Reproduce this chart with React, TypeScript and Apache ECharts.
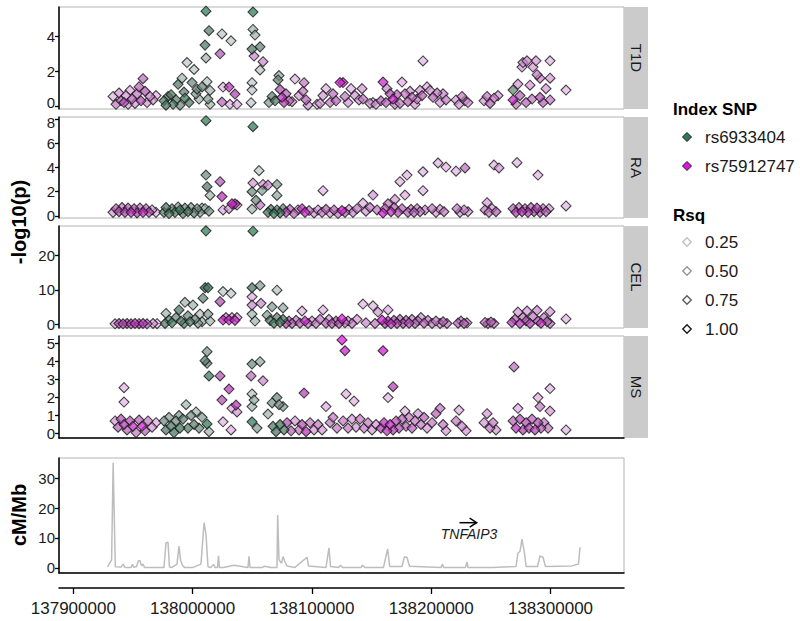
import React, { useEffect, useRef } from "react";
import * as echarts from "echarts";

// ---------- DATA (positions in kb) ----------
const xTicks = [137900, 138000, 138100, 138200, 138300];
const panelNames = ["T1D", "RA", "CEL", "MS"];
const panelTicks = [[0, 2, 4], [0, 2, 4, 6, 8], [0, 10, 20], [0, 1, 2, 3, 4, 5]];
const recombTicks = [0, 10, 20, 30];
const indexSnps = ["rs6933404", "rs75912747"];
const rsqLevels = ["0.25", "0.50", "0.75", "1.00"];
const geneName = "TNFAIP3";
const geneStart = 138223.7;
const geneEnd = 138238.1;
const geneArrowY = 15.1;
const geneLabelX = 138231.7;
const geneLabelY = 11.3;

// [pos kb, -log10(p), rsq, index (0 = rs6933404, 1 = rs75912747)]
const t1dData = [
  [137933.3, 0.55, 0.2, 1], [137935.8, 0.1, 0.4, 1], [137938.3, 0.75, 0.3, 1], [137940.0, 0.3, 0.5, 1],
  [137942.5, 0.2, 0.6, 1], [137944.2, 0.6, 0.3, 1], [137945.9, 0.1, 0.3, 1], [137947.5, 0.9, 0.25, 1],
  [137949.2, 0.4, 0.5, 1], [137951.7, 0.15, 0.3, 1], [137953.4, 0.7, 0.4, 1], [137955.1, 1.1, 0.5, 1],
  [137956.7, 0.3, 0.6, 1], [137958.4, 1.57, 0.45, 1], [137960.1, 0.85, 0.55, 1], [137961.8, 0.2, 0.3, 1],
  [137964.3, 0.55, 0.35, 1], [137966.8, 0.35, 0.3, 1], [137969.3, 0.6, 0.2, 1],
  [137976.0, 0.3, 0.7, 0], [137977.7, 0.05, 0.8, 0], [137979.4, 0.55, 0.6, 0], [137981.9, 0.65, 0.75, 0],
  [137983.6, 0.1, 0.7, 0], [137986.1, 0.35, 0.6, 0], [137987.8, 1.25, 0.7, 0], [137989.4, 0.05, 0.5, 0],
  [137991.1, 1.6, 0.3, 0], [137992.8, 0.8, 0.6, 0], [137993.6, 0.45, 0.8, 0], [137995.3, 2.5, 0.2, 0],
  [137997.0, 0.2, 0.7, 0], [137999.5, 1.35, 0.5, 0], [138001.2, 2.1, 0.2, 0], [138002.8, 0.7, 0.4, 0],
  [138003.7, 0.97, 0.55, 0], [138005.4, 0.4, 0.3, 0], [138007.9, 1.1, 0.55, 0],
  [138011.2, 5.45, 1, 0], [138013.7, 4.33, 0.65, 0], [138010.4, 3.5, 0.75, 0], [138011.2, 2.76, 0.3, 0],
  [138012.1, 1.4, 0.25, 0], [138014.6, 0.9, 0.3, 0], [138012.9, 0.4, 0.4, 0], [138014.6, 0.1, 0.3, 0],
  [138023.0, 3.0, 0.55, 1], [138024.6, 4.14, 0.2, 0], [138032.2, 3.75, 0.2, 0], [138025.5, 1.09, 0.2, 1],
  [138030.5, 1.09, 0.8, 1], [138035.5, 0.69, 0.7, 1], [138024.6, 0.23, 0.5, 1], [138031.3, 0.1, 0.25, 1],
  [138037.2, 0.1, 0.25, 1],
  [138050.6, 5.4, 1, 0], [138050.6, 4.4, 0.3, 0], [138052.3, 4.08, 0.3, 0], [138049.8, 3.27, 0.7, 0],
  [138056.5, 3.4, 0.55, 0], [138051.5, 2.87, 0.35, 1], [138059.0, 2.55, 0.35, 1], [138056.5, 2.07, 0.2, 0],
  [138049.8, 1.34, 0.2, 0], [138049.8, 0.92, 0.2, 0], [138049.0, 0.19, 0.2, 0],
  [138064.0, 0.2, 0.4, 0], [138066.6, 0.55, 0.6, 0], [138069.1, 0.3, 0.7, 0], [138071.6, 1.5, 0.55, 0],
  [138072.4, 1.75, 0.35, 0], [138073.3, 0.95, 0.6, 1], [138074.9, 0.5, 0.8, 1], [138076.6, 0.2, 0.7, 1],
  [138078.3, 0.7, 0.5, 1], [138080.8, 0.3, 0.5, 1], [138083.3, 0.25, 0.3, 1], [138085.8, 1.55, 0.2, 1],
  [138089.2, 0.6, 0.3, 1], [138092.5, 0.85, 0.4, 1], [138093.4, 1.34, 0.4, 1], [138095.1, 0.35, 0.5, 1],
  [138096.7, 0.05, 0.3, 1], [138104.3, 0.1, 0.25, 1],
  [138106.8, 0.15, 0.3, 1], [138109.3, 0.6, 0.3, 1], [138111.8, 1.0, 0.2, 1], [138115.2, 0.2, 0.4, 1],
  [138117.7, 0.7, 0.45, 1], [138120.2, 0.3, 0.5, 1], [138123.6, 1.35, 0.95, 1], [138126.1, 1.35, 0.9, 1],
  [138127.7, 0.55, 0.4, 1], [138130.3, 0.2, 0.3, 1], [138132.8, 1.0, 0.2, 1], [138136.1, 0.6, 0.3, 1],
  [138139.5, 0.35, 0.3, 1], [138142.0, 1.0, 0.3, 1], [138142.8, 0.4, 0.4, 1], [138148.7, 0.15, 0.3, 1],
  [138151.2, 0.2, 0.25, 1], [138153.7, 0.1, 0.3, 1],
  [138157.9, 0.3, 0.5, 1], [138159.6, 1.38, 0.9, 1], [138162.1, 0.2, 0.5, 1], [138162.9, 1.0, 0.35, 1],
  [138165.5, 0.7, 0.6, 1], [138168.0, 0.4, 0.9, 1], [138169.6, 0.1, 0.4, 1], [138171.3, 0.65, 0.5, 1],
  [138173.8, 0.15, 0.4, 1], [138175.5, 1.38, 0.25, 1], [138178.0, 0.7, 0.4, 1], [138180.5, 0.25, 0.5, 1],
  [138182.2, 0.85, 0.3, 1], [138183.9, 0.5, 0.45, 1], [138186.4, 0.1, 0.3, 1], [138188.1, 0.4, 0.4, 1],
  [138190.6, 0.9, 0.3, 1], [138192.3, 0.6, 0.5, 1], [138193.1, 2.59, 0.2, 1], [138196.5, 1.1, 0.25, 1],
  [138199.0, 0.9, 0.3, 1], [138201.5, 0.5, 0.5, 1], [138204.9, 0.75, 0.4, 1], [138207.4, 0.2, 0.3, 1],
  [138209.9, 0.7, 0.35, 1], [138212.4, 0.35, 0.4, 1],
  [138220.8, 0.35, 0.3, 1], [138223.3, 0.1, 0.3, 1], [138225.8, 0.55, 0.4, 1], [138228.3, 0.3, 0.3, 1],
  [138230.8, 0.2, 0.35, 1],
  [138244.3, 0.3, 0.3, 1], [138246.8, 0.55, 0.4, 1], [138249.3, 0.15, 0.5, 1], [138252.6, 0.45, 0.4, 1],
  [138256.0, 0.6, 0.3, 1],
  [138268.6, 0.92, 0.55, 0], [138268.6, 0.35, 0.9, 1], [138272.7, 1.26, 0.3, 1], [138274.4, 0.6, 0.5, 1],
  [138276.1, 2.24, 0.3, 1], [138276.9, 2.5, 0.3, 1], [138280.3, 2.6, 0.35, 1], [138282.8, 1.2, 0.3, 1],
  [138285.3, 2.24, 0.3, 1], [138287.8, 2.6, 0.3, 1], [138288.7, 1.8, 0.4, 1], [138291.2, 1.6, 0.35, 1],
  [138291.2, 0.5, 0.6, 1], [138293.7, 0.2, 0.5, 1], [138296.2, 1.0, 0.3, 1], [138299.6, 2.6, 0.2, 1],
  [138299.6, 1.6, 0.3, 1], [138299.6, 0.35, 0.4, 1], [138271.1, 0.1, 0.4, 1], [138279.5, 0.2, 0.5, 1],
  [138284.5, 0.4, 0.4, 1], [138313.0, 0.92, 0.2, 1],
];

const raData = [
  [137933.3, 0.3, 0.3, 1], [137935.8, 0.6, 0.5, 1], [137938.3, 0.35, 0.6, 1], [137940.8, 0.7, 0.4, 1],
  [137943.3, 0.3, 0.7, 1], [137945.9, 0.65, 0.5, 1], [137948.4, 0.3, 0.8, 1], [137950.9, 0.6, 0.6, 1],
  [137953.4, 0.25, 0.7, 1], [137955.9, 0.65, 0.4, 1], [137958.4, 0.3, 0.9, 1], [137960.9, 0.6, 0.5, 1],
  [137963.4, 0.3, 0.6, 1], [137966.0, 0.5, 0.3, 1], [137969.3, 0.3, 0.2, 1],
  [137976.0, 0.3, 0.6, 0], [137977.7, 0.7, 0.7, 0], [137980.2, 0.2, 0.8, 0], [137982.7, 0.6, 0.6, 0],
  [137985.2, 0.3, 0.7, 0], [137987.8, 0.75, 0.4, 0], [137989.4, 0.5, 0.9, 0], [137991.9, 0.2, 0.6, 0],
  [137993.6, 0.65, 0.5, 0], [137996.1, 0.35, 0.7, 0], [137998.7, 0.7, 0.4, 0], [138001.2, 0.25, 0.6, 0],
  [138003.7, 0.6, 0.5, 0], [138006.2, 0.3, 0.4, 0], [138007.9, 0.65, 0.3, 0],
  [138011.2, 7.86, 1, 0], [138011.2, 3.38, 0.5, 0], [138012.1, 2.42, 0.7, 0], [138014.6, 1.7, 0.3, 0],
  [138013.7, 0.4, 0.5, 0], [138010.4, 0.6, 0.3, 0], [138023.0, 2.83, 0.55, 1], [138024.6, 1.6, 0.8, 1],
  [138033.0, 1.0, 0.9, 1], [138035.5, 1.0, 0.85, 1], [138025.5, 0.5, 0.25, 1], [138030.5, 0.6, 0.3, 1],
  [138037.2, 0.9, 0.3, 1],
  [138050.6, 7.37, 1, 0], [138055.7, 3.74, 0.2, 0], [138050.6, 2.72, 0.3, 1], [138059.0, 2.6, 0.3, 1],
  [138063.2, 2.55, 0.35, 1], [138070.7, 2.6, 0.4, 0], [138049.8, 2.0, 0.5, 0], [138058.2, 2.1, 0.4, 0],
  [138070.7, 1.7, 0.35, 0], [138049.8, 0.57, 0.3, 0], [138053.1, 1.3, 0.5, 0], [138056.5, 0.9, 0.4, 1],
  [138063.2, 0.3, 0.8, 0], [138065.7, 0.55, 0.7, 0], [138068.2, 0.2, 0.9, 0], [138070.7, 0.5, 0.7, 0],
  [138073.3, 0.25, 0.8, 0], [138075.8, 0.6, 0.6, 0], [138078.3, 0.3, 0.7, 1], [138081.6, 0.55, 0.5, 1],
  [138085.0, 0.2, 0.5, 1], [138088.3, 0.5, 0.3, 1], [138091.7, 0.6, 0.8, 1], [138094.2, 0.3, 0.9, 1],
  [138097.6, 0.45, 0.4, 1], [138101.8, 0.25, 0.3, 1], [138109.3, 2.09, 0.2, 1], [138105.1, 0.5, 0.3, 1],
  [138108.5, 0.3, 0.4, 1], [138111.8, 0.55, 0.5, 1], [138115.2, 0.25, 0.3, 1], [138118.5, 0.5, 0.5, 1],
  [138121.9, 0.2, 0.4, 1], [138125.2, 0.45, 0.95, 1], [138127.7, 0.3, 0.5, 1], [138131.1, 0.55, 0.3, 1],
  [138134.4, 0.3, 0.35, 1], [138137.8, 0.6, 0.4, 1], [138142.8, 1.07, 0.25, 1], [138145.3, 0.4, 0.3, 1],
  [138148.7, 0.7, 0.4, 1], [138151.2, 1.73, 0.3, 1], [138154.6, 0.5, 0.4, 1],
  [138159.6, 0.25, 0.95, 1], [138161.3, 0.6, 0.5, 1], [138163.8, 1.0, 0.4, 1], [138166.3, 0.35, 0.8, 1],
  [138168.8, 0.7, 0.5, 1], [138169.6, 1.37, 0.3, 1], [138172.2, 0.3, 0.6, 1], [138173.8, 2.83, 0.2, 1],
  [138175.5, 0.6, 0.5, 1], [138178.0, 1.73, 0.25, 1], [138179.7, 3.38, 0.2, 1], [138180.5, 0.3, 0.5, 1],
  [138183.1, 0.55, 0.4, 1], [138185.6, 0.3, 0.5, 1], [138188.1, 0.6, 0.4, 1], [138190.6, 0.35, 0.4, 1],
  [138193.1, 3.65, 0.2, 1], [138193.1, 2.09, 0.2, 1], [138194.8, 0.5, 0.35, 1],
  [138205.7, 4.37, 0.2, 1], [138212.4, 4.04, 0.2, 1], [138220.8, 3.7, 0.2, 1], [138228.3, 3.96, 0.45, 1],
  [138200.7, 0.6, 0.4, 1], [138204.0, 0.3, 0.3, 1], [138207.4, 0.55, 0.3, 1], [138210.7, 0.35, 0.4, 1],
  [138221.6, 0.6, 0.4, 1], [138224.1, 0.3, 0.3, 1], [138227.5, 0.5, 0.35, 1], [138230.8, 0.35, 0.3, 1],
  [138246.8, 1.1, 0.3, 1], [138245.1, 0.5, 0.4, 1], [138248.4, 0.3, 0.4, 1], [138251.0, 0.6, 0.3, 1],
  [138252.6, 4.2, 0.2, 1], [138256.8, 3.96, 0.3, 1], [138254.3, 0.35, 0.5, 1],
  [138271.9, 4.4, 0.2, 1], [138289.5, 3.38, 0.2, 1], [138268.6, 0.6, 0.5, 1], [138271.1, 0.3, 0.7, 1],
  [138273.6, 0.7, 0.4, 1], [138276.1, 0.35, 0.8, 1], [138278.6, 0.6, 0.5, 1], [138281.1, 0.3, 0.7, 1],
  [138283.6, 0.7, 0.5, 1], [138286.2, 0.35, 0.6, 1], [138288.7, 0.65, 0.7, 1], [138291.2, 0.3, 0.5, 1],
  [138293.7, 0.6, 0.4, 1], [138296.2, 0.35, 0.5, 1], [138298.7, 0.6, 0.3, 1], [138313.0, 0.83, 0.2, 1],
];

const celData = [
  [137935.0, 0.2, 0.3, 1], [137938.3, 0.3, 0.6, 1], [137941.7, 0.2, 0.7, 1], [137945.0, 0.3, 0.6, 1],
  [137948.4, 0.2, 0.7, 1], [137951.7, 0.3, 0.8, 1], [137955.1, 0.25, 0.7, 1], [137958.4, 0.3, 0.8, 1],
  [137961.8, 0.2, 0.5, 1], [137966.8, 0.3, 0.3, 1], [137970.2, 0.25, 0.2, 1],
  [137976.9, 0.3, 0.7, 0], [137977.7, 3.2, 0.3, 0], [137980.2, 1.3, 0.6, 0], [137982.7, 0.5, 0.8, 0],
  [137986.1, 2.0, 0.5, 0], [137988.6, 4.2, 0.75, 0], [137990.3, 1.0, 0.7, 0], [137992.8, 0.3, 0.6, 0],
  [137993.6, 6.4, 0.3, 0], [137996.1, 2.5, 0.5, 0], [137997.8, 0.8, 0.7, 0], [138000.3, 5.6, 0.3, 0],
  [138002.0, 1.5, 0.5, 0], [138004.5, 0.4, 0.4, 0], [138006.2, 3.0, 0.25, 0], [138007.9, 0.8, 0.3, 0],
  [138011.2, 27.0, 1, 0], [138010.4, 10.6, 0.85, 0], [138012.9, 10.6, 0.85, 0], [138008.7, 7.6, 0.55, 0],
  [138012.9, 3.0, 0.4, 0], [138014.6, 1.0, 0.3, 0], [138023.0, 6.6, 0.6, 1], [138025.5, 9.5, 0.2, 0],
  [138032.2, 9.0, 0.2, 0], [138025.5, 1.3, 0.9, 1], [138028.0, 2.0, 0.4, 1], [138030.5, 1.3, 0.9, 1],
  [138033.0, 2.0, 0.3, 1], [138035.5, 1.2, 0.9, 1], [138037.2, 2.0, 0.3, 1],
  [138050.6, 26.9, 1, 0], [138049.8, 10.6, 0.75, 0], [138056.5, 11.2, 0.4, 0], [138049.8, 8.0, 0.25, 1],
  [138049.8, 5.6, 0.35, 1], [138057.3, 6.1, 0.35, 1], [138049.8, 3.0, 0.3, 0], [138062.4, 2.7, 0.4, 0],
  [138052.3, 1.0, 0.3, 0],
  [138066.6, 5.1, 0.4, 0], [138070.7, 9.9, 0.25, 0], [138075.8, 4.8, 0.35, 0], [138064.9, 1.2, 0.7, 0],
  [138068.2, 0.4, 0.8, 0], [138070.7, 2.0, 0.6, 0], [138073.3, 0.6, 0.8, 0], [138075.8, 1.5, 0.7, 0],
  [138078.3, 0.3, 0.6, 1], [138080.8, 1.0, 0.5, 1], [138083.3, 0.3, 0.5, 1], [138086.7, 1.2, 0.4, 1],
  [138090.0, 0.4, 0.5, 1], [138091.7, 3.9, 0.2, 1], [138094.2, 1.0, 0.9, 1], [138096.7, 0.3, 0.4, 1],
  [138100.1, 1.0, 0.3, 1],
  [138103.4, 0.3, 0.4, 1], [138106.8, 1.5, 0.4, 1], [138109.3, 4.2, 0.2, 1], [138111.8, 0.4, 0.5, 1],
  [138114.3, 1.5, 0.3, 1], [138116.8, 0.3, 0.6, 1], [138120.2, 1.0, 0.5, 1], [138122.7, 0.3, 0.6, 1],
  [138125.2, 1.6, 0.95, 1], [138127.7, 0.5, 0.5, 1], [138130.3, 1.0, 0.3, 1], [138133.6, 0.3, 0.4, 1],
  [138137.8, 1.5, 0.3, 1], [138142.8, 5.9, 0.2, 1], [138145.3, 0.5, 0.35, 1], [138151.2, 5.4, 0.2, 1],
  [138152.9, 0.3, 0.4, 1], [138155.4, 3.6, 0.3, 1],
  [138158.8, 1.3, 0.95, 1], [138161.3, 0.3, 0.7, 1], [138163.8, 4.2, 0.25, 1], [138163.8, 1.0, 0.8, 1],
  [138166.3, 0.2, 0.8, 1], [138168.8, 1.2, 0.6, 1], [138171.3, 0.3, 0.7, 1], [138173.8, 1.5, 0.5, 1],
  [138176.4, 0.3, 0.6, 1], [138178.9, 1.2, 0.5, 1], [138181.4, 0.4, 0.6, 1], [138183.9, 1.5, 0.4, 1],
  [138186.4, 0.3, 0.5, 1], [138188.9, 1.0, 0.4, 1], [138191.4, 2.0, 0.3, 1], [138194.0, 0.4, 0.5, 1],
  [138197.3, 1.2, 0.4, 1],
  [138200.7, 0.3, 0.4, 1], [138204.0, 1.0, 0.4, 1], [138207.4, 0.3, 0.3, 1], [138209.9, 0.8, 0.5, 1],
  [138213.2, 0.3, 0.4, 1], [138222.5, 0.4, 0.5, 1], [138225.0, 1.0, 0.4, 1], [138227.5, 0.3, 0.5, 1],
  [138230.0, 0.5, 0.4, 1], [138245.1, 0.6, 0.5, 1], [138247.6, 0.3, 0.4, 1], [138250.1, 0.7, 0.5, 1],
  [138252.6, 0.3, 0.4, 1],
  [138267.7, 0.6, 0.7, 1], [138270.2, 1.5, 0.5, 1], [138272.7, 3.6, 0.3, 1], [138274.4, 0.3, 0.8, 1],
  [138276.9, 2.0, 0.4, 1], [138279.5, 1.0, 0.6, 1], [138280.3, 3.9, 0.3, 1], [138282.8, 0.3, 0.7, 1],
  [138285.3, 2.3, 0.4, 1], [138288.7, 4.1, 0.35, 1], [138289.5, 1.0, 0.6, 1], [138292.0, 0.4, 0.8, 1],
  [138294.5, 2.0, 0.4, 1], [138297.1, 0.8, 0.5, 1], [138299.6, 3.7, 0.3, 1], [138299.6, 0.3, 0.4, 1],
  [138313.0, 1.6, 0.2, 1],
];

const msData = [
  [137935.0, 0.7, 0.3, 1], [137937.5, 0.35, 0.5, 1], [137940.0, 0.8, 0.6, 1], [137942.5, 2.55, 0.2, 1],
  [137942.5, 1.75, 0.2, 1], [137942.5, 0.5, 0.7, 1], [137945.0, 0.2, 0.5, 1], [137947.5, 0.7, 0.6, 1],
  [137950.0, 0.4, 0.8, 1], [137952.6, 0.05, 0.4, 1], [137955.1, 0.75, 0.5, 1], [137957.6, 0.4, 0.9, 1],
  [137960.1, 0.15, 0.5, 1], [137962.6, 0.7, 0.4, 1], [137966.0, 0.35, 0.3, 1], [137969.3, 0.6, 0.25, 1],
  [137976.0, 0.7, 0.5, 0], [137977.7, 0.2, 0.7, 0], [137980.2, 0.9, 0.4, 0], [137981.9, 0.4, 0.7, 0],
  [137984.4, 0.05, 0.8, 0], [137986.1, 0.7, 0.5, 0], [137988.6, 1.0, 0.4, 0], [137989.4, 0.3, 0.9, 0],
  [137991.9, 0.8, 0.6, 0], [137994.5, 1.6, 0.3, 0], [137996.1, 0.3, 0.7, 0], [137998.7, 1.0, 0.45, 0],
  [138001.2, 0.5, 0.6, 0], [138002.8, 1.2, 0.3, 0], [138005.4, 0.3, 0.5, 0], [138007.9, 0.9, 0.4, 0],
  [138012.1, 4.55, 0.45, 0], [138010.4, 4.05, 0.6, 0], [138012.1, 3.9, 0.55, 0], [138013.7, 3.2, 0.85, 0],
  [138012.1, 0.53, 1, 0], [138013.7, 0.1, 0.3, 0], [138023.0, 3.2, 0.6, 1], [138030.5, 2.47, 0.75, 1],
  [138024.6, 1.86, 0.6, 1], [138036.4, 1.58, 0.75, 1], [138033.0, 1.4, 0.25, 1], [138037.2, 1.2, 0.3, 1],
  [138025.5, 0.65, 0.2, 1], [138032.2, 0.2, 0.25, 1],
  [138049.8, 3.86, 0.5, 0], [138056.5, 3.99, 0.35, 0], [138049.0, 3.2, 0.45, 1], [138059.0, 2.93, 0.35, 1],
  [138049.8, 2.2, 0.25, 0], [138051.5, 1.86, 0.35, 0], [138049.8, 1.5, 0.3, 0], [138049.8, 0.65, 1, 0],
  [138054.0, 0.3, 0.4, 0],
  [138070.7, 2.0, 0.5, 0], [138066.6, 1.7, 0.45, 0], [138072.4, 1.6, 0.5, 0], [138075.8, 1.5, 0.4, 0],
  [138063.2, 1.08, 0.3, 0], [138067.4, 0.4, 0.7, 0], [138069.9, 0.1, 0.8, 0], [138073.3, 0.5, 0.9, 0],
  [138076.6, 0.2, 0.7, 0], [138079.1, 0.6, 0.6, 1], [138082.5, 0.15, 0.5, 1], [138085.8, 0.7, 0.3, 1],
  [138089.2, 0.2, 0.4, 1], [138091.7, 0.5, 0.6, 1], [138093.4, 2.25, 0.7, 1], [138095.1, 0.1, 0.8, 1],
  [138098.4, 0.6, 0.4, 1], [138101.8, 0.2, 0.3, 1],
  [138105.1, 0.5, 0.4, 1], [138108.5, 0.2, 0.3, 1], [138111.8, 1.5, 0.25, 1], [138115.2, 0.6, 0.4, 1],
  [138117.7, 0.9, 0.4, 1], [138121.0, 0.3, 0.4, 1], [138125.2, 5.2, 1, 1], [138127.7, 4.6, 0.95, 1],
  [138128.6, 2.2, 0.2, 1], [138135.3, 1.8, 0.2, 1], [138126.1, 0.7, 0.4, 1], [138130.3, 0.3, 0.4, 1],
  [138133.6, 0.8, 0.3, 1], [138137.0, 0.35, 0.3, 1], [138140.3, 0.8, 0.4, 1], [138143.7, 0.3, 0.4, 1],
  [138147.0, 0.6, 0.4, 1], [138150.4, 0.2, 0.3, 1], [138153.7, 0.5, 0.3, 1],
  [138159.6, 4.6, 0.95, 1], [138168.0, 2.6, 0.7, 1], [138163.8, 2.0, 0.2, 1], [138178.0, 1.25, 0.2, 1],
  [138157.9, 0.3, 0.7, 1], [138160.4, 0.6, 0.8, 1], [138162.9, 0.15, 0.8, 1], [138165.5, 0.5, 0.9, 1],
  [138168.0, 0.2, 0.7, 1], [138170.5, 0.7, 0.6, 1], [138173.0, 0.3, 0.6, 1], [138175.5, 0.8, 0.5, 1],
  [138178.9, 0.4, 0.5, 1], [138181.4, 0.9, 0.4, 1], [138183.9, 0.3, 0.5, 1], [138186.4, 0.7, 0.4, 1],
  [138188.9, 1.1, 0.3, 1], [138191.4, 0.5, 0.4, 1], [138194.0, 0.9, 0.5, 1], [138196.5, 0.3, 0.3, 1],
  [138200.7, 0.6, 0.4, 1], [138204.0, 1.1, 0.5, 1], [138207.4, 1.4, 0.4, 1], [138209.9, 0.5, 0.4, 1],
  [138212.4, 0.15, 0.3, 1], [138223.3, 1.3, 0.25, 1], [138220.8, 0.7, 0.4, 1], [138225.8, 0.4, 0.35, 1],
  [138229.2, 0.15, 0.3, 1], [138246.8, 1.1, 0.3, 1], [138244.3, 0.6, 0.3, 1], [138249.3, 0.3, 0.4, 1],
  [138251.8, 0.6, 0.4, 1], [138254.3, 0.2, 0.3, 1],
  [138269.4, 3.7, 0.45, 1], [138299.6, 2.5, 0.2, 1], [138289.5, 2.0, 0.25, 1], [138272.7, 1.4, 0.25, 1],
  [138291.2, 1.5, 0.4, 1], [138299.6, 1.25, 0.3, 1], [138268.6, 0.7, 0.5, 1], [138271.1, 0.3, 0.8, 1],
  [138274.4, 0.8, 0.6, 1], [138276.9, 0.2, 0.7, 1], [138279.5, 0.6, 0.6, 1], [138282.0, 0.3, 0.7, 1],
  [138284.5, 0.8, 0.5, 1], [138287.0, 0.2, 0.7, 1], [138289.5, 0.6, 0.6, 1], [138292.0, 0.3, 0.5, 1],
  [138294.5, 0.6, 0.4, 1], [138297.9, 0.3, 0.4, 1], [138313.0, 0.2, 0.2, 1],
];

// recombination rate (cM/Mb)
const recombPos = [
  137928.7, 137932.1, 137933.4, 137935.2, 137940.0, 137941.7, 137943.3, 137948.4, 137949.6, 137950.9,
  137953.0, 137954.6, 137955.9, 137957.2, 137958.4, 137959.7, 137976.0, 137977.7, 137979.4, 137980.6,
  137982.7, 137986.9, 137988.6, 137989.9, 137991.5, 137993.2, 138000.3, 138007.0, 138009.6, 138011.2,
  138012.9, 138015.4, 138017.5, 138018.8, 138020.9, 138021.7, 138022.5, 138025.9, 138034.7, 138046.4,
  138047.3, 138048.1, 138058.6, 138060.3, 138065.7, 138070.7, 138071.3, 138072.4, 138074.5, 138075.8,
  138077.4, 138079.1, 138085.8, 138093.0, 138095.9, 138097.1, 138111.8, 138114.3, 138115.6, 138122.3,
  138124.0, 138125.6, 138141.2, 138142.4, 138144.5, 138160.0, 138161.7, 138163.5, 138165.2, 138175.5,
  138177.6, 138179.7, 138181.8, 138208.2, 138209.5, 138210.3, 138228.7, 138230.0, 138230.8, 138251.0,
  138271.1, 138272.7, 138274.4, 138276.1, 138278.2, 138279.5, 138289.1, 138291.2, 138293.7, 138295.8,
  138318.0, 138323.5, 138324.7,
];
const recombRate = [
  0.4, 2.7, 35.1, 0.4, 0.3, 1.3, 0.2, 0.2, 1.2, 0.2,
  0.5, 2.4, 2.4, 0.7, 1.3, 0.2, 0.2, 8.4, 8.6, 0.3,
  0.2, 1.3, 7.3, 2.6, 0.9, 0.2, 0.2, 1.3, 15.1, 11.3,
  0.4, 0.2, 1.2, 0.2, 0.2, 4.1, 0.2, 0.2, 0.9, 0.2,
  3.9, 0.2, 0.2, 0.6, 0.2, 0.2, 17.7, 2.7, 1.6, 3.8,
  2.0, 0.7, 0.2, 2.6, 3.6, 0.7, 0.2, 6.7, 0.5, 0.2,
  0.9, 0.2, 0.2, 0.9, 0.2, 0.2, 3.2, 6.4, 0.5, 0.5,
  3.8, 3.5, 0.6, 0.2, 1.3, 0.2, 0.2, 2.0, 0.2, 0.2,
  0.5, 5.0, 5.5, 9.6, 4.9, 0.5, 0.5, 4.0, 3.6, 0.5,
  0.7, 1.3, 6.9,
];

// ---------- LAYOUT / STYLE ----------
const FONT = "'Liberation Sans', Arial, Helvetica, sans-serif";
const X_MIN = 137888.0;
const X_MAX = 138361.6;
const GRID_LEFT = 59;
const GRID_WIDTH = 565;
const panelLayout = [
  { top: 7, height: 102, min: -0.17, max: 5.69 },
  { top: 117, height: 101, min: -0.165, max: 8.165 },
  { top: 226, height: 102, min: -1.0, max: 28.4 },
  { top: 336, height: 102, min: -0.25, max: 5.42 },
];
// labels that sit right next to the neighbouring panel's label get nudged apart
const nudgeUp = [0, null, null, null];
const nudgeDown = [null, 8, null, null];
const recombLayout = { top: 458, height: 115, min: -1.67, max: 36.67 };
const IDX_RGB = [[43, 122, 83], [224, 18, 224]];
const IDX_HEX = ["#2b7a53", "#e012e0"];
const BASE_RGB = [226, 220, 230];
const RSQ_STROKES = ["#c2c2c2", "#969696", "#5e5e5e", "#1a1a1a"];
const TICK_FONT = { fontSize: 15, fontFamily: FONT, color: "#1a1a1a" };

function fillFor(rsq: number, idx: number) {
  const c = IDX_RGB[idx];
  const dark = 1 - 1.5 * Math.max(0, rsq - 0.25) * (1 - rsq);
  const m = (k: number) => Math.round((BASE_RGB[k] + (c[k] - BASE_RGB[k]) * rsq) * dark);
  return `rgba(${m(0)},${m(1)},${m(2)},0.9)`;
}

function diamond(cx: number, cy: number, r: number) {
  return [[cx, cy - r], [cx + r, cy], [cx, cy + r], [cx - r, cy]];
}

export default function App() {
  const ref = useRef<HTMLDivElement>(null);
  useEffect(() => {
    if (!ref.current) return;
    const chart = echarts.init(ref.current, null, { renderer: "svg" });
    const datasets = [t1dData, raData, celData, msData];

    const grids: any[] = panelLayout.map((p) => ({
      left: GRID_LEFT, top: p.top, width: GRID_WIDTH, height: p.height,
      show: true, borderColor: "#b3b3b3", borderWidth: 1, backgroundColor: "#fff",
    }));
    grids.push({
      left: GRID_LEFT, top: recombLayout.top, width: GRID_WIDTH, height: recombLayout.height,
      show: true, borderColor: "#b3b3b3", borderWidth: 1, backgroundColor: "#fff",
    });

    const xAxes: any[] = grids.map((_, i) => ({
      type: "value", gridIndex: i, min: X_MIN, max: X_MAX,
      axisLine: { show: i >= 3, onZero: false, lineStyle: { color: "#000", width: 1.5 } },
      axisTick: { show: false }, axisLabel: { show: false }, splitLine: { show: false },
    }));
    xAxes.push({
      type: "value", gridIndex: 4, min: X_MIN, max: X_MAX, position: "bottom", offset: 15,
      axisLine: { show: true, onZero: false, lineStyle: { color: "#000", width: 1.5 } },
      axisTick: { show: true, length: 6, customValues: xTicks, lineStyle: { color: "#000", width: 1.3 } },
      axisLabel: {
        customValues: xTicks, fontSize: 17, color: "#1a1a1a", fontFamily: FONT, margin: 12,
        formatter: (v: number) => String(Math.round(v * 1000)),
      },
      splitLine: { show: false },
    });

    const yAxes: any[] = panelLayout.map((p, i) => ({
      type: "value", gridIndex: i, min: p.min, max: p.max,
      axisLine: { show: true, onZero: false, lineStyle: { color: "#000", width: 1.5 } },
      axisTick: { show: true, length: 4, customValues: panelTicks[i], lineStyle: { color: "#000", width: 1.3 } },
      axisLabel: {
        customValues: panelTicks[i], ...TICK_FONT, margin: 4,
        formatter: (v: number) => {
          if (nudgeUp[i] !== null && v === nudgeUp[i]) return `{up|${v}}`;
          if (nudgeDown[i] !== null && v === nudgeDown[i]) return `{dn|${v}}`;
          return String(v);
        },
        rich: {
          up: { ...TICK_FONT, padding: [0, 0, 7, 0] },
          dn: { ...TICK_FONT, padding: [7, 0, 0, 0] },
        },
      },
      splitLine: { show: false },
    }));
    yAxes.push({
      type: "value", gridIndex: 4, min: recombLayout.min, max: recombLayout.max,
      axisLine: { show: true, onZero: false, lineStyle: { color: "#000", width: 1.5 } },
      axisTick: { show: true, length: 4, customValues: recombTicks, lineStyle: { color: "#000", width: 1.3 } },
      axisLabel: { customValues: recombTicks, ...TICK_FONT, margin: 4 },
      splitLine: { show: false },
    });

    const series: any[] = datasets.map((d, i) => {
      const sorted = [...d].sort((a, b) => a[2] - b[2]);
      return {
        type: "scatter", xAxisIndex: i, yAxisIndex: i, symbol: "diamond", symbolSize: 10,
        silent: true,
        data: sorted.map((p) => ({
          value: [p[0], p[1]],
          itemStyle: { color: fillFor(p[2], p[3]), borderColor: "#1a1a1a", borderWidth: 1.1 },
        })),
      };
    });
    series.push({
      type: "line", xAxisIndex: 4, yAxisIndex: 4, showSymbol: false, symbol: "none", silent: true,
      data: recombPos.map((x, i) => [x, recombRate[i]]),
      lineStyle: { color: "#bdbdbd", width: 1.5 },
    });
    series.push({
      type: "custom", xAxisIndex: 4, yAxisIndex: 4, silent: true,
      data: [[geneStart, geneEnd, geneArrowY, geneLabelX, geneLabelY]],
      renderItem: (_p: any, api: any) => {
        const a = api.coord([api.value(0), api.value(2)]);
        const b = api.coord([api.value(1), api.value(2)]);
        const t = api.coord([api.value(3), api.value(4)]);
        return {
          type: "group",
          children: [
            { type: "line", shape: { x1: a[0], y1: a[1], x2: b[0], y2: b[1] }, style: { stroke: "#000", lineWidth: 1.5 } },
            {
              type: "polyline",
              shape: { points: [[b[0] - 7, b[1] - 4.5], [b[0], b[1]], [b[0] - 7, b[1] + 4.5]] },
              style: { stroke: "#000", lineWidth: 1.5, fill: "none" },
            },
            {
              type: "text", x: t[0], y: t[1],
              style: { text: geneName, font: `italic 14px ${FONT}`, fill: "#1a1a1a", align: "center", verticalAlign: "middle" },
            },
          ],
        };
      },
    });

    const graphic: any[] = [];
    panelLayout.forEach((p, i) => {
      graphic.push({ type: "rect", shape: { x: 624, y: p.top, width: 24, height: p.height }, style: { fill: "#cbcbcb" }, silent: true });
      graphic.push({
        type: "text", x: 636, y: p.top + p.height / 2, rotation: -Math.PI / 2,
        style: { text: panelNames[i], font: `15px ${FONT}`, fill: "#1a1a1a", align: "center", verticalAlign: "middle" },
      });
    });
    graphic.push({
      type: "text", x: 19, y: 222, rotation: Math.PI / 2,
      style: { text: "-log10(p)", font: `bold 20px ${FONT}`, fill: "#000", align: "center", verticalAlign: "middle" },
    });
    graphic.push({
      type: "text", x: 19, y: 515, rotation: Math.PI / 2,
      style: { text: "cM/Mb", font: `bold 20px ${FONT}`, fill: "#000", align: "center", verticalAlign: "middle" },
    });
    // legend: Index SNP
    graphic.push({
      type: "text", x: 673, y: 109,
      style: { text: "Index SNP", font: `bold 17px ${FONT}`, fill: "#000", align: "left", verticalAlign: "middle" },
    });
    const idxY = [137, 166];
    indexSnps.forEach((name, i) => {
      graphic.push({ type: "polygon", shape: { points: diamond(687, idxY[i], 4.5) }, style: { fill: IDX_HEX[i], stroke: "#1a1a1a", lineWidth: 1 } });
      graphic.push({
        type: "text", x: 705, y: idxY[i],
        style: { text: name, font: `17px ${FONT}`, fill: "#1a1a1a", align: "left", verticalAlign: "middle" },
      });
    });
    graphic.push({
      type: "text", x: 673, y: 215,
      style: { text: "Rsq", font: `bold 17px ${FONT}`, fill: "#000", align: "left", verticalAlign: "middle" },
    });
    const rsqY = [242, 271, 300, 329];
    rsqLevels.forEach((lv, i) => {
      graphic.push({ type: "polygon", shape: { points: diamond(687, rsqY[i], 4.2) }, style: { fill: "none", stroke: RSQ_STROKES[i], lineWidth: 1.4 } });
      graphic.push({
        type: "text", x: 705, y: rsqY[i],
        style: { text: lv, font: `17px ${FONT}`, fill: "#1a1a1a", align: "left", verticalAlign: "middle" },
      });
    });

    chart.setOption({
      animation: false,
      backgroundColor: "#ffffff",
      textStyle: { fontFamily: FONT },
      grid: grids,
      xAxis: xAxes,
      yAxis: yAxes,
      series,
      graphic,
    });
    return () => chart.dispose();
  }, []);

  return <div ref={ref} style={{ position: "absolute", left: 0, top: 0, width: 800, height: 621 }} />;
}
